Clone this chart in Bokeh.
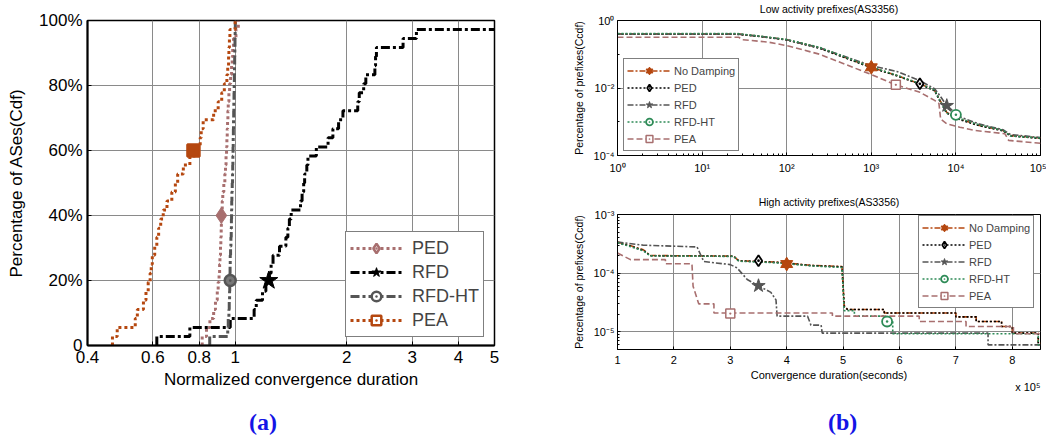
from bokeh.plotting import figure
from bokeh.layouts import row, column
from bokeh.models import FixedTicker, Legend, LegendItem, Title, Div
from bokeh.embed import file_html
from bokeh.resources import INLINE

# ---------------- Panel (a): per-AS normalized convergence durations (36 ASes, sorted)
a_ped = [0.815, 0.837, 0.855, 0.875, 0.885, 0.895, 0.900, 0.905, 0.908, 0.910, 0.913, 0.915,
         0.917, 0.918, 0.920, 0.923, 0.926, 0.932, 0.938, 0.942, 0.945, 0.948, 0.950, 0.952,
         0.954, 0.956, 0.958, 0.962, 0.966, 0.972, 0.978, 0.982, 0.985, 0.990, 1.005, 1.020]
a_rfd = [0.615, 0.755, 0.970, 1.125, 1.140, 1.185, 1.210, 1.235, 1.250, 1.265, 1.317, 1.370,
         1.387, 1.400, 1.416, 1.500, 1.515, 1.530, 1.539, 1.560, 1.571, 1.655, 1.780, 1.834,
         1.900, 1.952, 2.140, 2.160, 2.220, 2.250, 2.380, 2.390, 2.403, 2.835, 3.080, 6.000]
a_rfdht = [0.854, 0.955, 0.958, 0.962, 0.964, 0.966, 0.967, 0.968, 0.969, 0.970, 0.972, 0.974,
           0.976, 0.977, 0.978, 0.979, 0.980, 0.982, 0.984, 0.985, 0.986, 0.987, 0.988, 0.989,
           0.990, 0.991, 0.992, 0.993, 0.994, 0.995, 0.996, 0.997, 0.998, 0.999, 1.000, 1.001]
a_pea = [0.467, 0.481, 0.538, 0.545, 0.566, 0.575, 0.583, 0.590, 0.594, 0.598, 0.607, 0.615,
         0.622, 0.630, 0.640, 0.655, 0.675, 0.690, 0.700, 0.725, 0.755, 0.780, 0.805, 0.810,
         0.820, 0.875, 0.900, 0.920, 0.935, 0.950, 0.955, 0.960, 0.962, 0.965, 0.968, 1.000]
a_mark_x = [0.918, 1.232, 0.970, 0.772]
a_mark_y = [0.40, 0.20, 0.20, 0.60]
a_xticks = [0.4, 0.6, 0.8, 1, 2, 3, 4, 5]
a_xlabels = ["0.4", "0.6", "0.8", "1", "2", "3", "4", "5"]
a_yticks = [0, 0.2, 0.4, 0.6, 0.8, 1.0]
a_ylabels = ["0", "20%", "40%", "60%", "80%", "100%"]

# ---------------- Panel (b) top: low activity prefixes CCDF
lo_x = [1, 26, 48, 100, 245, 1000, 2000, 3750, 5600, 6500, 7800, 11100, 19000, 36000, 44000, 100000]
lo_nodamp = [0.40, 0.40, 0.34, 0.27, 0.155, 0.041, 0.0235, 0.0133, 0.0085, 0.0043, 0.0019,
             0.0012, 0.00078, 0.00055, 0.00039, 0.00033]
lo_ped = [0.39, 0.39, 0.335, 0.265, 0.150, 0.040, 0.0230, 0.0130, 0.0083, 0.0040, 0.0018,
          0.00115, 0.00076, 0.00054, 0.00038, 0.00032]
lo_rfd = [0.40, 0.40, 0.34, 0.27, 0.155, 0.046, 0.031, 0.0165, 0.0095, 0.0058, 0.0030,
          0.0014, 0.00085, 0.00058, 0.00042, 0.00034]
lo_rfdht = [0.41, 0.41, 0.345, 0.275, 0.160, 0.042, 0.0240, 0.0135, 0.0086, 0.0042, 0.0018,
            0.00125, 0.00080, 0.00056, 0.00038, 0.00033]
lo_pea_x = [1, 27, 30, 60, 100, 245, 1000, 1950, 3750, 5600, 6300, 6600, 7800, 11100, 17000,
            33000, 38000, 42000, 100000]
lo_pea = [0.32, 0.32, 0.27, 0.23, 0.18, 0.10, 0.025, 0.0124, 0.0075, 0.0043, 0.0035, 0.0012,
          0.00087, 0.00069, 0.00055, 0.00046, 0.00044, 0.00028, 0.00023]
lo_mark_x = [1000, 3750, 7800, 10000, 1950]
lo_mark_y = [0.041, 0.0133, 0.0030, 0.0016, 0.0124]

# ---------------- Panel (b) bottom: high activity prefixes CCDF (x in seconds)
hi_nd_x = [1.0e5, 1.2e5, 1.46e5, 1.58e5, 3.06e5, 3.15e5, 3.83e5, 4.43e5, 4.98e5, 5.02e5, 5.08e5,
           5.73e5, 5.73e5, 7.0e5, 7.0e5, 7.36e5, 7.36e5, 7.81e5, 7.81e5, 8.0e5, 8.0e5, 8.46e5,
           8.46e5, 8.5e5]
hi_nd = [3.4e-4, 3.0e-4, 2.5e-4, 2.0e-4, 1.95e-4, 1.63e-4, 1.54e-4, 1.36e-4, 1.30e-4, 2.8e-5,
         2.4e-5, 2.4e-5, 2.1e-5, 2.1e-5, 1.8e-5, 1.8e-5, 1.5e-5, 1.5e-5, 1.23e-5, 1.23e-5,
         9.5e-6, 9.5e-6, 6.4e-6, 6.4e-6]
hi_ped = [3.3e-4, 2.95e-4, 2.45e-4, 1.98e-4, 1.94e-4, 1.62e-4, 1.52e-4, 1.35e-4, 1.28e-4, 2.7e-5,
          2.4e-5, 2.4e-5, 2.1e-5, 2.1e-5, 1.8e-5, 1.8e-5, 1.5e-5, 1.5e-5, 1.23e-5, 1.23e-5,
          9.5e-6, 9.5e-6, 6.4e-6, 6.4e-6]
hi_rfdht_x = [1.0e5, 1.2e5, 1.46e5, 1.58e5, 3.06e5, 3.15e5, 3.83e5, 4.43e5, 4.98e5, 5.02e5,
              5.2e5, 5.2e5, 5.75e5, 5.75e5, 5.88e5, 5.88e5, 8.46e5, 8.46e5, 8.5e5]
hi_rfdht = [3.3e-4, 2.9e-4, 2.4e-4, 1.97e-4, 1.93e-4, 1.60e-4, 1.50e-4, 1.33e-4, 1.25e-4, 2.3e-5,
            2.3e-5, 1.85e-5, 1.85e-5, 1.5e-5, 1.5e-5, 9.3e-6, 9.3e-6, 6.0e-6, 6.0e-6]
hi_rfd_x = [1.0e5, 1.46e5, 2.41e5, 2.53e5, 3.0e5, 3.12e5, 3.30e5, 3.5e5, 3.72e5, 3.81e5, 3.83e5,
            4.37e5, 4.43e5, 4.61e5, 4.63e5, 7.57e5, 7.57e5, 8.5e5]
hi_rfd = [3.4e-4, 3.0e-4, 2.8e-4, 1.58e-4, 1.4e-4, 1.23e-4, 7.8e-5, 6.1e-5, 4.7e-5, 3.5e-5,
          1.85e-5, 1.85e-5, 1.3e-5, 1.3e-5, 9.5e-6, 9.5e-6, 6.0e-6, 6.0e-6]
hi_pea_x = [1.0e5, 1.23e5, 1.85e5, 1.85e5, 2.32e5, 2.34e5, 2.44e5, 2.71e5, 2.71e5, 4.81e5, 4.81e5,
            6.35e5, 6.35e5, 7.18e5, 7.18e5, 8.02e5, 8.02e5, 8.5e5]
hi_pea = [2.2e-4, 1.7e-4, 1.7e-4, 1.45e-4, 1.45e-4, 6.0e-5, 3.0e-5, 3.0e-5, 2.1e-5, 2.1e-5,
          1.85e-5, 1.85e-5, 1.5e-5, 1.5e-5, 1.23e-5, 1.23e-5, 9.3e-6, 9.3e-6]
hi_mark_x = [4.0e5, 3.5e5, 3.5e5, 5.78e5, 3.0e5]
hi_mark_y = [1.43e-4, 1.63e-4, 6.1e-5, 1.5e-5, 2.05e-5]
hi_xticks = [1e5, 2e5, 3e5, 4e5, 5e5, 6e5, 7e5, 8e5]
hi_xlabels = ["1", "2", "3", "4", "5", "6", "7", "8"]

lo_xticks = [1, 10, 100, 1000, 10000, 100000]
lo_xlabels = ["10⁰", "10¹", "10²", "10³", "10⁴", "10⁵"]
lo_yticks = [1e-4, 1e-2, 1.0]
lo_ylabels = ["10⁻⁴", "10⁻²", "10⁰"]
hi_yticks = [1e-5, 1e-4, 1e-3]
hi_ylabels = ["10⁻⁵", "10⁻⁴", "10⁻³"]

names_a = ["PED", "RFD", "RFD-HT", "PEA"]
names_b = ["No Damping", "PED", "RFD", "RFD-HT", "PEA"]
title_lo = "Low activity prefixes(AS3356)"
title_hi = "High activity prefixes(AS3356)"

ORANGE = "#B5470F"
ROSY = "#A86F6F"
GRAY = "#555555"
GREEN = "#2E8B57"
BLACK = "#000000"
BLUE = "#1414E6"
FONT = "Liberation Sans"


def style(p, fs, tick_in):
    p.outline_line_color = "black"
    p.outline_line_width = 1
    for ax in p.axis:
        ax.major_label_text_font = FONT
        ax.major_label_text_font_size = fs
        ax.major_label_text_color = "black"
        ax.axis_label_text_font = FONT
        ax.axis_label_text_font_size = fs
        ax.axis_label_text_font_style = "normal"
        ax.axis_label_text_color = "black"
        ax.axis_line_color = "black"
        ax.major_tick_line_color = "black"
        ax.minor_tick_line_color = "black"
        ax.major_tick_in = tick_in
        ax.major_tick_out = 0
        ax.minor_tick_in = 2
        ax.minor_tick_out = 0
    p.grid.grid_line_color = "#8a8a8a"
    p.grid.grid_line_alpha = 1.0
    p.grid.grid_line_width = 1


def cdf(samples):
    n = len(samples)
    xs = [samples[0]] + list(samples)
    ys = [0.0] + [(i + 1) / n for i in range(n)]
    return xs, ys


def caption(text, width, left):
    html = ('<div style="position:relative; left:%dpx; top:8px; font-family:\'Liberation Serif\'; '
            'font-weight:bold; font-size:24px; line-height:28px; color:%s; white-space:nowrap">%s</div>'
            % (left, BLUE, text))
    return Div(text=html, width=width, height=35, margin=0)


def head(text, height, shift, top):
    html = ('<div style="position:relative; width:486px; left:%dpx; top:%dpx; text-align:center; '
            'font-family:\'Liberation Sans\'; font-size:10.5px; line-height:12px; color:black; '
            'white-space:nowrap">%s</div>' % (shift, top, text))
    return Div(text=html, width=486, height=height, margin=0)


# ================= Panel (a)
pa = figure(width=560, height=400, x_axis_type="log", x_range=(0.4, 5), y_range=(0, 1),
            output_backend="svg", toolbar_location=None,
            min_border_left=87, min_border_right=66, min_border_top=20, min_border_bottom=55)
style(pa, "17px", 4)
pa.xaxis.ticker = FixedTicker(ticks=a_xticks)
pa.xaxis.major_label_overrides = dict(zip(a_xticks, a_xlabels))
pa.yaxis.ticker = FixedTicker(ticks=a_yticks)
pa.yaxis.major_label_overrides = dict(zip(a_yticks, a_ylabels))
pa.xaxis.axis_label = "Normalized convergence duration"
pa.yaxis.axis_label = "Percentage of ASes(Cdf)"
pa.xaxis.major_label_standoff = 5
pa.xaxis.axis_label_standoff = 4
pa.yaxis.major_label_standoff = 5
pa.yaxis.axis_label_standoff = 10
pa.axis.axis_line_width = 2
pa.outline_line_width = 1.5

series_a = [(a_ped, ROSY, "3 3"), (a_rfd, BLACK, "9 3 3 3"), (a_rfdht, GRAY, "9 3 3 3"), (a_pea, ORANGE, "3 3")]
lines_a = []
for vals, col, dash in series_a:
    xs, ys = cdf(vals)
    lines_a.append(pa.step(xs, ys, mode="after", line_color=col, line_width=3, line_dash=dash))

# plot markers
pa.scatter([a_mark_x[0]], [a_mark_y[0]], marker="diamond", size=16, fill_color=ROSY, line_color=ROSY, line_width=1)
pa.scatter([a_mark_x[1]], [a_mark_y[1]], marker="star", size=19, fill_color=BLACK, line_color=BLACK, line_width=1)
pa.scatter([a_mark_x[2]], [a_mark_y[2]], marker="circle_dot", size=11, fill_color="#777777", line_color=GRAY, line_width=2.5)
pa.scatter([a_mark_x[3]], [a_mark_y[3]], marker="square_dot", size=12, fill_color=ORANGE, line_color=ORANGE, line_width=2.5)

# legend-only markers (outside view)
lg_a = [
    pa.scatter([0.01], [0.5], marker="diamond_dot", size=15, fill_color="white", line_color=ROSY, line_width=2.5),
    pa.scatter([0.01], [0.5], marker="star", size=17, fill_color=BLACK, line_color=BLACK, line_width=1),
    pa.scatter([0.01], [0.5], marker="circle_dot", size=12, fill_color="white", line_color=GRAY, line_width=2.5),
    pa.scatter([0.01], [0.5], marker="square_dot", size=12, fill_color="white", line_color=ORANGE, line_width=2.5),
]
leg_a = Legend(items=[LegendItem(label=n, renderers=[l, m]) for n, l, m in zip(names_a, lines_a, lg_a)],
               location=(258, 8), label_text_font=FONT, label_text_font_size="18px",
               glyph_width=52, glyph_height=24, label_height=24, spacing=0, padding=4,
               label_standoff=10, margin=0, border_line_color="black", border_line_width=1.5,
               background_fill_alpha=1)
pa.add_layout(leg_a)


def b_markers(p, mx, my, lx, ly, sz):
    # No Damping hexagram
    p.scatter([mx[0]], [my[0]], marker="triangle", size=sz + 1, fill_color=ORANGE, line_color=ORANGE)
    p.scatter([mx[0]], [my[0]], marker="inverted_triangle", size=sz + 1, fill_color=ORANGE, line_color=ORANGE)
    p.scatter([mx[1]], [my[1]], marker="diamond_dot", size=sz, fill_color="white", line_color=BLACK, line_width=1.8)
    p.scatter([mx[2]], [my[2]], marker="star", size=sz + 3, fill_color=GRAY, line_color=GRAY)
    p.scatter([mx[3]], [my[3]], marker="circle_dot", size=sz - 1, fill_color="white", line_color=GREEN, line_width=1.8)
    p.scatter([mx[4]], [my[4]], marker="square_dot", size=sz - 2, fill_color="white", line_color=ROSY, line_width=1.5)
    # legend-only copies (outside view)
    l1 = p.scatter([lx], [ly], marker="triangle", size=sz - 1, fill_color=ORANGE, line_color=ORANGE)
    l2 = p.scatter([lx], [ly], marker="inverted_triangle", size=sz - 1, fill_color=ORANGE, line_color=ORANGE)
    l3 = p.scatter([lx], [ly], marker="diamond_dot", size=sz - 1, fill_color="white", line_color=BLACK, line_width=1.8)
    l4 = p.scatter([lx], [ly], marker="star", size=sz + 1, fill_color=GRAY, line_color=GRAY)
    l5 = p.scatter([lx], [ly], marker="circle_dot", size=sz - 2, fill_color="white", line_color=GREEN, line_width=1.8)
    l6 = p.scatter([lx], [ly], marker="square_dot", size=sz - 3, fill_color="white", line_color=ROSY, line_width=1.5)
    return [[l1, l2], [l3], [l4], [l5], [l6]]


def b_fig(height, xr, yr, xtype, top, bottom, right):
    p = figure(width=486, height=height, x_axis_type=xtype, y_axis_type="log", x_range=xr, y_range=yr,
               output_backend="svg", toolbar_location=None,
               min_border_left=57, min_border_right=right, min_border_top=top, min_border_bottom=bottom)
    style(p, "11px", 3)
    p.yaxis.axis_label = "Percentage of prefixes(Ccdf)"
    p.yaxis.axis_label_text_font_size = "10.5px"
    p.yaxis.major_label_standoff = 3
    p.yaxis.axis_label_standoff = 6
    p.xaxis.major_label_standoff = 6
    return p


# ================= Panel (b) top
pb1 = b_fig(181, (1, 1e5), (1e-4, 1), "log", 6, 40, 5)
pb1.xaxis.ticker = FixedTicker(ticks=lo_xticks, minor_ticks=[m * 10 ** e for e in range(0, 5) for m in range(2, 10)])
pb1.xaxis.major_label_overrides = dict(zip(lo_xticks, lo_xlabels))
pb1.yaxis.ticker = FixedTicker(ticks=lo_yticks, minor_ticks=[1e-3, 1e-1])
pb1.yaxis.major_label_overrides = dict(zip(lo_yticks, lo_ylabels))
lines_b1 = [
    pb1.line(lo_x, lo_nodamp, line_color=ORANGE, line_width=1.6, line_dash="6 2 2 2"),
    pb1.line(lo_x, lo_ped, line_color=BLACK, line_width=1.6, line_dash="2 2"),
    pb1.line(lo_x, lo_rfd, line_color=GRAY, line_width=1.6, line_dash="6 2 2 2"),
    pb1.line(lo_x, lo_rfdht, line_color=GREEN, line_width=1.6, line_dash="2 2"),
    pb1.line(lo_pea_x, lo_pea, line_color=ROSY, line_width=1.6, line_dash="6 3"),
]
lm1 = b_markers(pb1, lo_mark_x, lo_mark_y, 1e-3, 1e-2, 11)
leg1 = Legend(items=[LegendItem(label=n, renderers=[l] + m) for n, l, m in zip(names_b, lines_b1, lm1)],
              location=(6, 4), label_text_font=FONT, label_text_font_size="11px",
              glyph_width=44, glyph_height=17, label_height=17, spacing=0, padding=3,
              label_standoff=3, margin=0, border_line_color="black", border_line_width=1.2,
              background_fill_alpha=1)
pb1.add_layout(leg1)

# ================= Panel (b) bottom
pb2 = b_fig(193, (1e5, 8.5e5), (5e-6, 1e-3), "linear", 7, 51, 6)
pb2.xaxis.ticker = FixedTicker(ticks=hi_xticks)
pb2.xaxis.major_label_overrides = dict(zip(hi_xticks, hi_xlabels))
pb2.yaxis.ticker = FixedTicker(ticks=hi_yticks, minor_ticks=[m * 10 ** e for e in (-6, -5, -4) for m in range(2, 10)])
pb2.yaxis.major_label_overrides = dict(zip(hi_yticks, hi_ylabels))
pb2.xaxis.axis_label = "Convergence duration(seconds)"
pb2.xaxis.axis_label_standoff = 2
lines_b2 = [
    pb2.line(hi_nd_x, hi_nd, line_color=ORANGE, line_width=1.6, line_dash="6 2 2 2"),
    pb2.line(hi_nd_x, hi_ped, line_color=BLACK, line_width=1.6, line_dash="2 2"),
    pb2.line(hi_rfd_x, hi_rfd, line_color=GRAY, line_width=1.6, line_dash="6 2 2 2"),
    pb2.line(hi_rfdht_x, hi_rfdht, line_color=GREEN, line_width=1.6, line_dash="2 2"),
    pb2.line(hi_pea_x, hi_pea, line_color=ROSY, line_width=1.6, line_dash="6 3"),
]
lm2 = b_markers(pb2, hi_mark_x, hi_mark_y, 1e4, 1e-4, 11)
leg2 = Legend(items=[LegendItem(label=n, renderers=[l] + m) for n, l, m in zip(names_b, lines_b2, lm2)],
              location=(301, 41), label_text_font=FONT, label_text_font_size="11px",
              glyph_width=44, glyph_height=17, label_height=17, spacing=0, padding=3,
              label_standoff=3, margin=0, border_line_color="black", border_line_width=1.2,
              background_fill_alpha=1)
pb2.add_layout(leg2)
pb2.add_layout(Title(text="x 10⁵", align="right", standoff=-9, text_font=FONT, text_font_size="11px",
                     text_font_style="normal", text_color="black"), "below")

head_lo = head(title_lo, 14, 26, 1)
head_hi = head(title_hi, 12, 26, -1)
cap_a = caption("(a)", 560, 249)
cap_b = caption("(b)", 486, 268)

layout = row(column(pa, cap_a), column(head_lo, pb1, head_hi, pb2, cap_b))
open("out.html", "w").write(file_html(layout, INLINE))
